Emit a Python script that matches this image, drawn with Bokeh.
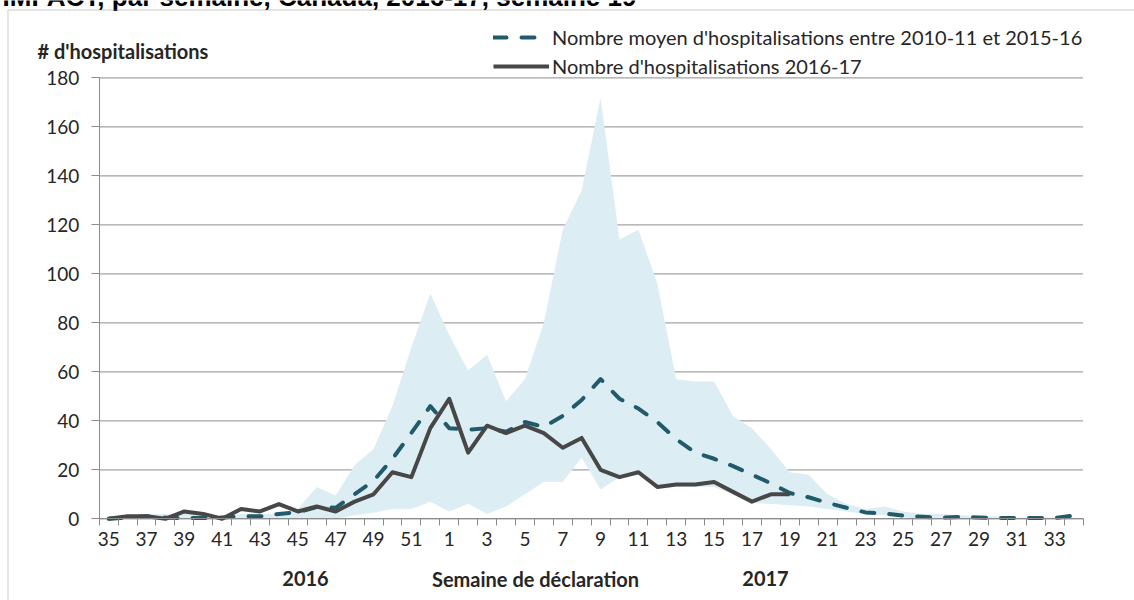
from bokeh.plotting import figure
from bokeh.models import (ColumnDataSource, FixedTicker, Legend, LegendItem, Label,
                          LinearAxis, BoxAnnotation)
from bokeh.embed import file_html
from bokeh.resources import INLINE

# ---------------- data ----------------
weeks = list(range(35, 53)) + list(range(1, 35))

mean_2010_2016 = [0, 0.5, 1, 0.5, 0.3, 0.3, 0.5, 1, 1, 2, 2.7, 4.8, 4.5, 10, 15.5, 24.5, 35, 46,
                  37, 36.3, 37, 35.5, 39.5, 37.5, 42, 48.5, 57, 49, 45, 39.5, 32.5, 27, 24.5,
                  21.5, 18, 14.5, 10.5, 8.8, 6.5, 4.5, 2.6, 2.2, 1.3, 0.8, 0.4, 0.8, 0.5, 0.3,
                  0.3, 0.3, 0.3, 1.3]

range_high = [1, 1, 2, 2, 2, 2, 1, 2, 2, 2, 4, 13, 9.5, 22, 28.5, 46, 70, 92,
              75, 60.5, 67, 48, 57, 80, 118, 134, 172, 114, 118, 96, 57, 56, 56,
              42, 37, 28.5, 19, 18, 10, 6, 4, 5, 3, 2, 2, 1.5, 1, 1, 0.5, 0.5, 0.5, 0.5]

range_low = [0, 0, 0, 0, 0, 0, 0, 0, 0, 0, 0, 0, 0, 1.5, 2.5, 4, 4, 7,
             3, 6, 2, 5, 10, 15, 15, 25, 12, 17, 18, 12.5, 13, 13, 13,
             10, 6.5, 6, 5.5, 5, 4, 3, 2, 1.3, 0.5, 0, 0, 0, 0, 0, 0, 0, 0, 0]

hosp_2016_17 = [0, 1, 1, 0, 3, 2, 0, 4, 3, 6, 3, 5, 3, 7, 10, 19, 17, 37,
                49, 27, 38, 35, 38, 35, 29, 33, 20, 17, 19, 13, 14, 14, 15, 11, 7, 10, 10]

y_ticks = list(range(0, 181, 20))
title_text = "IMPACT, par semaine, Canada, 2016-17, semaine 19"
y_title = "# d'hospitalisations"
x_title = "Semaine de déclaration"
year_labels = ["2016", "2017"]
legend_labels = ["Nombre moyen d'hospitalisations entre 2010-11 et 2015-16",
                 "Nombre d'hospitalisations 2016-17"]

# ---------------- layout (pixels) ----------------
W, H = 1134, 600
PX_LEFT = 98.7      # left edge of the first week category
PX_STEP = 18.92     # width of one week category
PX_ZERO = 518.3     # y pixel of value 0
PX_UNIT = 2.45      # pixels per hospitalisation


def dx(px):
    return (px - PX_LEFT) / PX_STEP - 0.5


def dy(py):
    return (PX_ZERO - py) / PX_UNIT


FONT = "Lato"
TXT = "#262626"
GRID = "#A3A3A3"
AXIS = "#8C8C8C"
BAND = "#DCEEF4"
DASHC = "#215A6A"
SOLIDC = "#474747"

n = len(weeks)
idx = list(range(n))
src_all = ColumnDataSource(dict(x=idx, mean=mean_2010_2016, lo=range_low, hi=range_high))
src_cur = ColumnDataSource(dict(x=idx[:len(hosp_2016_17)], v=hosp_2016_17))

p = figure(width=W, height=H, x_range=(dx(0), dx(W)), y_range=(dy(H), dy(0)),
           output_backend="svg", toolbar_location=None, title=None,
           min_border=0, background_fill_color="white", border_fill_color="white",
           x_axis_type=None, y_axis_type=None)
p.outline_line_color = None
p.grid.visible = False

# horizontal gridlines across the category area
p.segment(x0=[-0.5] * len(y_ticks), x1=[n - 0.5] * len(y_ticks), y0=y_ticks, y1=y_ticks,
          line_color=GRID, line_width=1.3)

p.varea(x="x", y1="lo", y2="hi", source=src_all, fill_color=BAND)
r_mean = p.line(x="x", y="mean", source=src_all, line_color=DASHC, line_width=4,
                line_dash="13 15", line_cap="round", line_join="round")
r_cur = p.line(x="x", y="v", source=src_cur, line_color=SOLIDC, line_width=4,
               line_join="round")

# x axis: labels every other week, tick marks at category boundaries
xaxis = LinearAxis(fixed_location=0, bounds=(-0.5, n - 0.5),
                   ticker=FixedTicker(ticks=idx[::2],
                                      minor_ticks=[i - 0.5 for i in range(n + 1)]),
                   major_label_overrides={i: str(weeks[i]) for i in idx[::2]},
                   major_tick_out=0, major_tick_in=0, minor_tick_out=7, minor_tick_in=0,
                   minor_tick_line_color=AXIS, axis_line_color=AXIS,
                   major_label_standoff=6, major_label_text_font=FONT,
                   major_label_text_font_size="19px", major_label_text_color=TXT)
p.add_layout(xaxis, "below")

yaxis = LinearAxis(fixed_location=-0.5, bounds=(0, 180),
                   ticker=FixedTicker(ticks=y_ticks, minor_ticks=[]),
                   major_tick_out=8, major_tick_in=0, minor_tick_out=0, minor_tick_in=0,
                   major_tick_line_color=AXIS, axis_line_color=AXIS,
                   major_label_standoff=12, major_label_text_font=FONT,
                   major_label_text_font_size="19px", major_label_text_color=TXT)
p.add_layout(yaxis, "left")

# texts
p.add_layout(Label(x=dx(2), y=dy(-3.5), text=title_text, text_font="Liberation Sans",
                   text_font_style="bold", text_font_size="26px", text_color="#000000",
                   text_align="left", text_baseline="alphabetic"))
p.add_layout(Label(x=dx(37), y=dy(50), text=y_title, text_font=FONT, text_font_style="bold",
                   text_font_size="20px", text_color=TXT, text_align="left",
                   text_baseline="middle"))
p.add_layout(Label(x=dx(535), y=dy(578), text=x_title, text_font=FONT,
                   text_font_style="bold", text_font_size="20px", text_color=TXT,
                   text_align="center", text_baseline="middle"))
for px, t in zip((305, 765), year_labels):
    p.add_layout(Label(x=dx(px), y=dy(578), text=t, text_font=FONT, text_font_style="bold",
                       text_font_size="20px", text_color=TXT, text_align="center",
                       text_baseline="middle"))

# chart-area border (top and left edges visible)
p.add_layout(BoxAnnotation(left=dx(7.5), top=dy(9.5), right=dx(W + 20), bottom=dy(H + 20),
                           fill_alpha=0, line_color=AXIS, line_width=1.5))

legend = Legend(items=[LegendItem(label=legend_labels[0], renderers=[r_mean]),
                       LegendItem(label=legend_labels[1], renderers=[r_cur])],
                location=(493, H - 25 - 53), orientation="vertical",
                label_text_font=FONT, label_text_font_size="20px", label_text_color=TXT,
                glyph_width=56, glyph_height=24, label_height=24, spacing=5,
                label_standoff=3, padding=0, margin=0,
                border_line_color=None, background_fill_alpha=0)
p.add_layout(legend)

open("out.html", "w").write(file_html(p, INLINE))
